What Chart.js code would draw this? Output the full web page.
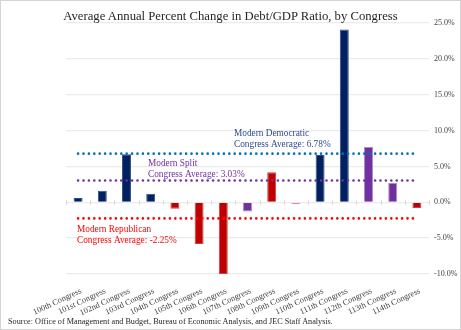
<!DOCTYPE html>
<html>
<head>
<meta charset="utf-8">
<script src="https://cdn.jsdelivr.net/npm/chart.js@4/dist/chart.umd.min.js"></script>
<style>
  html, body { margin: 0; padding: 0; background: #fff; }
  #wrap { width: 461px; height: 330px; box-sizing: border-box; border: 1px solid #d4d4d4; position: relative; }
  #wrap canvas { position: absolute; left: 0; top: 0; }
  .txt { position: absolute; font-family: "Liberation Serif", "Times New Roman", serif; color: #262626; white-space: nowrap; }
  #title { left: 0; right: 0; top: 8px; text-align: center; font-size: 12.7px; }
  #source { left: 7px; top: 316px; font-size: 8.2px; }
</style>
</head>
<body>
<div id="wrap">
  <canvas id="chart"></canvas>
  <div id="title" class="txt">Average Annual Percent Change in Debt/GDP Ratio, by Congress</div>
  <div id="source" class="txt">Source: Office of Management and Budget, Bureau of Economic Analysis, and JEC Staff Analysis.</div>
</div>
<script>
// Data
const congresses = ['100th Congress', '101st Congress', '102nd Congress', '103rd Congress', '104th Congress',
    '105th Congress', '106th Congress', '107th Congress', '108th Congress', '109th Congress',
    '110th Congress', '111th Congress', '112th Congress', '113th Congress', '114th Congress'];
const pctChange = [0.6, 1.6, 6.7, 1.2, -0.9, -5.8, -10.0, -1.3, 4.2, -0.2, 6.6, 24.1, 7.7, 2.7, -0.8];
const control = ['D', 'D', 'D', 'D', 'R', 'R', 'R', 'S', 'R', 'R', 'D', 'D', 'S', 'S', 'R'];
const demAvg = 6.78;
const splitAvg = 3.03;
const repAvg = -2.25;
const yTicks = [25, 20, 15, 10, 5, 0, -5, -10];

const fill = { D: '#002060', R: '#C00000', S: '#7030A0' };
const edge = { D: '#33507f', R: '#d04040', S: '#a88bc8' };
const SERIF = '"Liberation Serif", "Times New Roman", serif';

// reference line = two points at first/last category
function avgLine(v) {
    return [{ x: congresses[0], y: v }, { x: congresses[congresses.length - 1], y: v }];
}
function dotted(color) {
    return { type: 'line', borderColor: color, borderWidth: 2.6, borderDash: [0, 5.4],
        borderCapStyle: 'round', pointRadius: 0, fill: false, order: 0 };
}

// labels next to the average lines
const notes = [
    { lines: ['Modern Democratic', 'Congress Average: 6.78%'], color: '#2e4b8a', dx: 168, value: demAvg, dy: -25 },
    { lines: ['Modern Split', 'Congress Average: 3.03%'], color: '#7030A0', dx: 82, value: splitAvg, dy: -22 },
    { lines: ['Modern Republican', 'Congress Average: -2.25%'], color: '#FF0000', dx: 11, value: repAvg, dy: 6 }
];

const notePlugin = {
    id: 'notes',
    afterDatasetsDraw(chart) {
        const { ctx, chartArea, scales } = chart;
        ctx.save();
        ctx.font = '9.3px ' + SERIF;
        ctx.textBaseline = 'top';
        notes.forEach(n => {
            const y = scales.y.getPixelForValue(n.value) + n.dy;
            ctx.fillStyle = n.color;
            n.lines.forEach((t, i) => ctx.fillText(t, chartArea.left + n.dx, y + i * 11));
        });
        // small ticks on the zero line
        const y0 = scales.y.getPixelForValue(0);
        const step = (chartArea.right - chartArea.left) / congresses.length;
        ctx.strokeStyle = '#d9d9d9';
        ctx.lineWidth = 1;
        for (let i = 0; i <= congresses.length; i++) {
            const x = Math.round(chartArea.left + i * step) + 0.5;
            ctx.beginPath(); ctx.moveTo(x, y0 - 2); ctx.lineTo(x, y0 + 3); ctx.stroke();
        }
        ctx.restore();
    }
};

new Chart(document.getElementById('chart'), {
    data: {
        labels: congresses,
        datasets: [
            { type: 'bar', data: pctChange, order: 1,
              backgroundColor: control.map(c => fill[c]),
              borderColor: control.map(c => edge[c]), borderWidth: 1,
              barPercentage: 0.37, categoryPercentage: 1 },
            Object.assign({ data: avgLine(demAvg) }, dotted('#0070C0')),
            Object.assign({ data: avgLine(splitAvg) }, dotted('#7030A0')),
            Object.assign({ data: avgLine(repAvg) }, dotted('#FF0000'))
        ]
    },
    options: {
        responsive: true, maintainAspectRatio: false, animation: false,
        layout: { padding: { left: 65, right: 2, top: 22, bottom: 3 } },
        plugins: { legend: { display: false }, tooltip: { enabled: false } },
        scales: {
            x: {
                grid: { display: false }, border: { display: false },
                afterFit: s => { s.height = 52; },
                ticks: { color: '#404040', font: { family: SERIF, size: 8.4 }, autoSkip: false,
                    minRotation: 25, maxRotation: 25, padding: 4, labelOffset: 3 }
            },
            y: {
                position: 'right', min: -10, max: 25,
                afterFit: s => { s.width = 29; },
                afterBuildTicks: s => { s.ticks = yTicks.map(v => ({ value: v })); },
                grid: { color: '#ebebeb', lineWidth: 1.3, drawTicks: false }, border: { display: false },
                ticks: { color: '#404040', font: { family: SERIF, size: 8 }, padding: 5,
                    callback: v => v.toFixed(1) + '%' }
            }
        }
    },
    plugins: [notePlugin]
});
</script>
</body>
</html>
